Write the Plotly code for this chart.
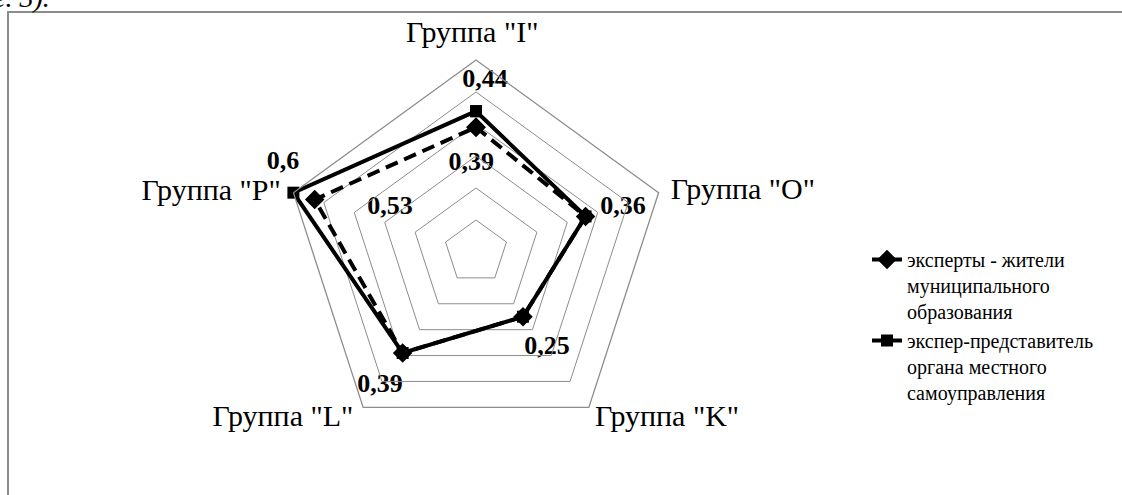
import math
import plotly.graph_objects as go

# ---- data ----
categories = ['Группа "I"', 'Группа "O"', 'Группа "K"', 'Группа "L"', 'Группа "P"']
residents = [0.39, 0.36, 0.25, 0.39, 0.53]      # эксперты - жители муниципального образования
officials = [0.44, 0.36, 0.25, 0.39, 0.60]      # экспер-представитель органа местного самоуправления
series_names = ["эксперты - жители<br>муниципального<br>образования",
                "экспер-представитель<br>органа местного<br>самоуправления"]
radial_ticks = [0.1, 0.2, 0.3, 0.4, 0.5, 0.6]
r_max = 0.6

# data labels: values come from the series; label placement (radius, clockwise angle) is styling only
label_values = [officials[0], residents[0], officials[1], officials[2], officials[3], officials[4], residents[4]]
label_r = [0.538, 0.278, 0.48, 0.373, 0.513, 0.664, 0.303]
label_theta = [3, 357, 73, 143.5, 215.8, 294.8, 297.6]
label_text = [("%g" % v).replace(".", ",") for v in label_values]

# category label placement (radius, clockwise angle) - styling only
cat_label_r = [0.681, 0.855, 0.791, 0.796, 0.848]
cat_label_theta = [359, 77.3, 131, 229.3, 282.6]

W, H = 1122, 495
cx, cy, R = 476, 252, 192
S = R / r_max  # pixels per unit, shared by the polar and the overlay axes
dom = dict(x=[(cx - R) / W, (cx + R) / W], y=[(H - cy - R) / H, (H - cy + R) / H])
SERIF = "Liberation Serif, Times New Roman, DejaVu Serif, serif"


def to_xy(rs, thetas):
    xs = [r * math.sin(math.radians(t)) for r, t in zip(rs, thetas)]
    ys = [r * math.cos(math.radians(t)) for r, t in zip(rs, thetas)]
    return xs, ys


fig = go.Figure()

fig.add_trace(go.Scatterpolar(
    r=residents + residents[:1], theta=categories + categories[:1],
    mode="lines+markers", name=series_names[0],
    line=dict(color="black", width=4, dash="13px,7px"),
    marker=dict(symbol="diamond", size=15, color="black"),
))
fig.add_trace(go.Scatterpolar(
    r=officials + officials[:1], theta=categories + categories[:1],
    mode="lines+markers", name=series_names[1],
    line=dict(color="black", width=4),
    marker=dict(symbol="square", size=12, color="black"),
))

lx, ly = to_xy(label_r, label_theta)
fig.add_trace(go.Scatter(
    x=lx, y=ly, mode="text", text=label_text,
    textfont=dict(family=SERIF, size=26, color="black", weight="bold"),
    showlegend=False, cliponaxis=False, hoverinfo="skip",
))
kx, ky = to_xy(cat_label_r, cat_label_theta)
fig.add_trace(go.Scatter(
    x=kx, y=ky, mode="text", text=categories,
    textfont=dict(family=SERIF, size=30, color="black"),
    showlegend=False, cliponaxis=False, hoverinfo="skip",
))

fig.update_layout(
    width=W, height=H,
    margin=dict(l=0, r=0, t=0, b=0),
    paper_bgcolor="white", plot_bgcolor="rgba(0,0,0,0)",
    font=dict(family=SERIF, color="black"),
    xaxis=dict(range=[-cx / S, (W - cx) / S], visible=False, domain=[0, 1]),
    yaxis=dict(range=[-(H - cy) / S, cy / S], visible=False, domain=[0, 1]),
    polar=dict(
        domain=dom,
        gridshape="linear",
        bgcolor="rgba(0,0,0,0)",
        radialaxis=dict(range=[0, r_max], tickvals=radial_ticks, showticklabels=False, ticks="",
                        showline=False, gridcolor="#8c8c8c", gridwidth=1.3),
        angularaxis=dict(type="category", direction="clockwise", rotation=90,
                         ticks="", showgrid=False, showline=True, showticklabels=False,
                         linecolor="#8c8c8c", linewidth=1.3),
    ),
    legend=dict(x=867 / W, y=(H - 240) / H, xanchor="left", yanchor="top",
                font=dict(family=SERIF, size=20, color="black"),
                valign="top", tracegroupgap=0, bgcolor="rgba(0,0,0,0)"),
    shapes=[dict(type="rect", xref="paper", yref="paper", x0=8 / W, x1=1.02, y0=-0.02, y1=(H - 12) / H,
                 line=dict(color="#8c8c8c", width=2), fillcolor="rgba(0,0,0,0)", layer="below")],
    annotations=[dict(text="<i>е. 3).</i>", xref="paper", yref="paper", x=-9 / W, y=(H - 15) / H,
                      xanchor="left", yanchor="bottom", showarrow=False,
                      font=dict(family=SERIF, size=28, color="black"))],
)

fig.write_html("out.html", config={"displayModeBar": False},
               post_script="document.body.style.margin='0';")
